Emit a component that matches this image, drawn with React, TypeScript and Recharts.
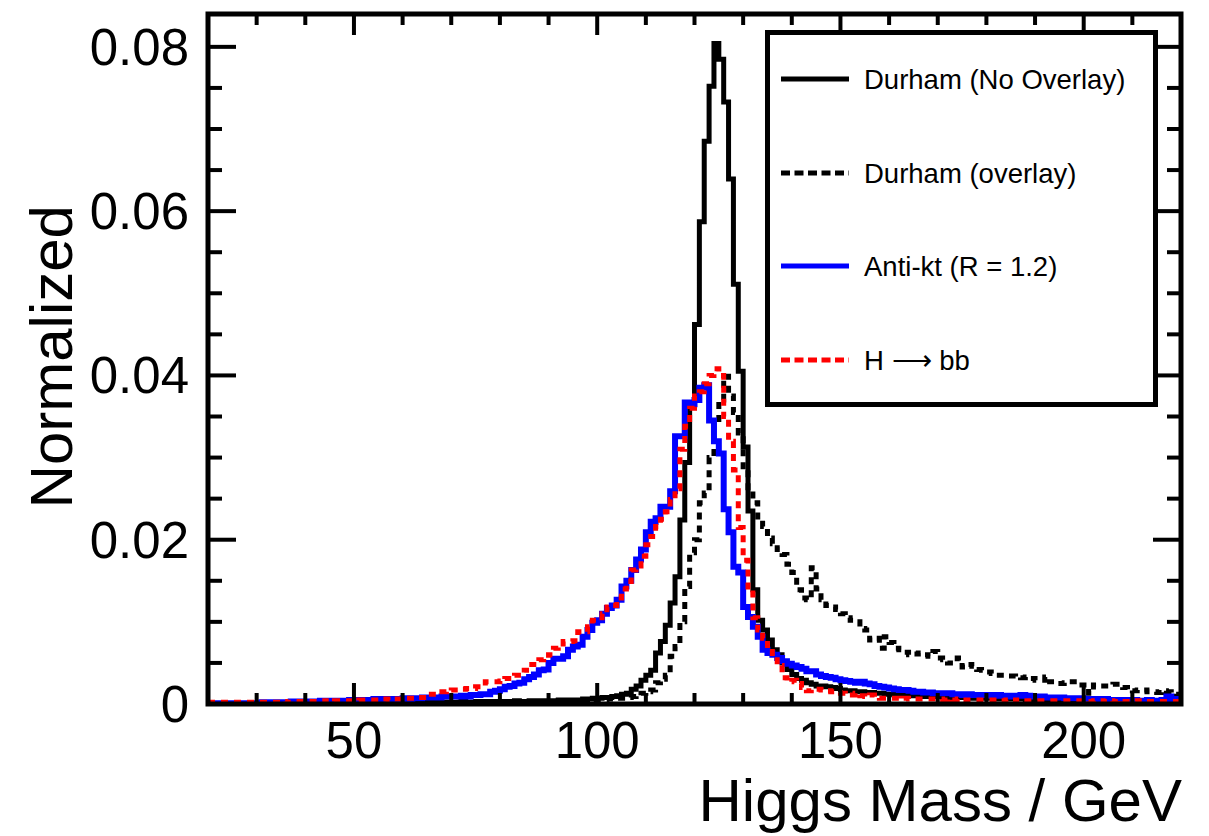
import React from 'react';
import { LineChart, Line, XAxis, YAxis } from 'recharts';

// ---------------- layout constants ----------------
const W = 1209;
const H = 836;
const PLOT_LEFT = 208;
const PLOT_TOP = 14;
const PLOT_W = 973;
const PLOT_H = 690;
const FONT = '"Liberation Sans", Arial, Helvetica, sans-serif';

// ---------------- axes ----------------
const X_MIN = 20;
const X_MAX = 220;
const Y_MAX = 0.084;
const xTicks = [20, 30, 40, 50, 60, 70, 80, 90, 100, 110, 120, 130, 140, 150, 160, 170, 180, 190, 200, 210];
const xMajorTicks = [50, 100, 150, 200];
const xTickLabels = ['50', '100', '150', '200'];
const yTicks = [0, 0.005, 0.01, 0.015, 0.02, 0.025, 0.03, 0.035, 0.04, 0.045, 0.05, 0.055, 0.06, 0.065, 0.07, 0.075, 0.08];
const yMajorTicks = [0, 0.02, 0.04, 0.06, 0.08];
const yTickLabels = ['0', '0.02', '0.04', '0.06', '0.08'];
const xTitle = 'Higgs Mass / GeV';
const yTitle = 'Normalized';

// ---------------- series (1 GeV bins, 20 .. 220) ----------------
const seriesNames = ['Durham (No Overlay)', 'Durham (overlay)', 'Anti-kt (R = 1.2)', 'H \u27F6 bb'];

const durhamNoOverlay = [
  0, 0, 0, 0, 0, 0, 0, 0, 0, 0,
  0, 0, 0, 0, 0.0001, 0, 0, 0.0001, 0, 0.0001,
  0.0001, 0.0001, 0.0001, 0.0001, 0.0001, 0.0001, 0.0001, 0.0001, 0.0001, 0.0001,
  0.0001, 0.0001, 0.0002, 0.0001, 0.0001, 0.0002, 0.0002, 0.0001, 0.0002, 0.0002,
  0.0002, 0.0002, 0.0002, 0.0002, 0.0002, 0.0002, 0.0002, 0.0002, 0.0002, 0.0002,
  0.0002, 0.0002, 0.0003, 0.0002, 0.0002, 0.0003, 0.0003, 0.0003, 0.0002, 0.0003,
  0.0003, 0.0003, 0.0003, 0.0004, 0.0003, 0.0003, 0.0004, 0.0003, 0.0004, 0.0004,
  0.0004, 0.0004, 0.0005, 0.0004, 0.0005, 0.0005, 0.0005, 0.0006, 0.0006, 0.0007,
  0.0007, 0.0008, 0.0008, 0.0009, 0.0010, 0.0012, 0.0013, 0.0018, 0.0022, 0.0029,
  0.0035, 0.0041, 0.0062, 0.0076, 0.0096, 0.0123, 0.0155, 0.0224, 0.0294, 0.0367,
  0.0462, 0.0587, 0.0685, 0.0752, 0.0804, 0.0785, 0.0733, 0.0639, 0.0511, 0.0405,
  0.0313, 0.0235, 0.0139, 0.0102, 0.0090, 0.0078, 0.0066, 0.0060, 0.0050, 0.0042,
  0.0036, 0.0031, 0.0029, 0.0026, 0.0024, 0.0022, 0.0022, 0.0021, 0.0020, 0.0019,
  0.0017, 0.0016, 0.0016, 0.0015, 0.0015, 0.0014, 0.0014, 0.0013, 0.0013, 0.0012,
  0.0012, 0.0011, 0.0011, 0.0011, 0.0010, 0.0010, 0.0010, 0.0009, 0.0009, 0.0009,
  0.0009, 0.0008, 0.0008, 0.0008, 0.0008, 0.0008, 0.0007, 0.0007, 0.0007, 0.0007,
  0.0007, 0.0007, 0.0006, 0.0006, 0.0006, 0.0006, 0.0006, 0.0006, 0.0005, 0.0006,
  0.0005, 0.0005, 0.0005, 0.0005, 0.0005, 0.0005, 0.0005, 0.0004, 0.0005, 0.0004,
  0.0004, 0.0004, 0.0004, 0.0004, 0.0004, 0.0004, 0.0004, 0.0004, 0.0004, 0.0003,
  0.0003, 0.0004, 0.0003, 0.0003, 0.0003, 0.0003, 0.0003, 0.0003, 0.0003, 0.0003,
];

const durhamOverlay = [
  0, 0, 0, 0, 0, 0, 0, 0, 0, 0,
  0, 0, 0, 0, 0, 0, 0, 0.0001, 0, 0,
  0, 0.0001, 0, 0, 0.0001, 0, 0.0001, 0, 0.0001, 0.0001,
  0.0001, 0.0001, 0.0001, 0.0001, 0.0001, 0.0001, 0.0001, 0.0001, 0.0001, 0.0001,
  0.0001, 0.0001, 0.0001, 0.0002, 0.0001, 0.0001, 0.0002, 0.0001, 0.0002, 0.0002,
  0.0002, 0.0002, 0.0002, 0.0002, 0.0002, 0.0002, 0.0002, 0.0002, 0.0002, 0.0002,
  0.0002, 0.0002, 0.0003, 0.0002, 0.0003, 0.0003, 0.0003, 0.0003, 0.0003, 0.0003,
  0.0003, 0.0003, 0.0004, 0.0003, 0.0004, 0.0004, 0.0004, 0.0004, 0.0005, 0.0005,
  0.0005, 0.0005, 0.0006, 0.0006, 0.0007, 0.0007, 0.0008, 0.0009, 0.0010, 0.0013,
  0.0015, 0.0017, 0.0026, 0.0030, 0.0035, 0.0058, 0.0070, 0.0100, 0.0143, 0.0184,
  0.0200, 0.0245, 0.0257, 0.0300, 0.0343, 0.0370, 0.0399, 0.0375, 0.0355, 0.0330,
  0.0285, 0.0260, 0.0245, 0.0224, 0.0216, 0.0202, 0.0195, 0.0188, 0.0182, 0.0170,
  0.0160, 0.0139, 0.0129, 0.0127, 0.0166, 0.0140, 0.0127, 0.0120, 0.0118, 0.0115,
  0.0110, 0.0105, 0.0102, 0.0100, 0.0092, 0.0090, 0.0078, 0.0080, 0.0068, 0.0082,
  0.0075, 0.0068, 0.0066, 0.0063, 0.0060, 0.0061, 0.0062, 0.0060, 0.0058, 0.0064,
  0.0056, 0.0054, 0.0050, 0.0050, 0.0056, 0.0045, 0.0048, 0.0046, 0.0042, 0.0041,
  0.0039, 0.0037, 0.0035, 0.0035, 0.0034, 0.0034, 0.0033, 0.0032, 0.0033, 0.0031,
  0.0029, 0.0029, 0.0033, 0.0027, 0.0025, 0.0025, 0.0026, 0.0027, 0.0027, 0.0023,
  0.0023, 0.0013, 0.0023, 0.0022, 0.0022, 0.0022, 0.0024, 0.0024, 0.0020, 0.0017,
  0.0016, 0.0017, 0.0017, 0.0015, 0.0015, 0.0014, 0.0016, 0.0015, 0.0014, 0.0012,
];

const antiKt = [
  0.0001, 0.0001, 0.0001, 0.0001, 0.0001, 0.0001, 0.0001, 0.0001, 0.0001, 0.0001,
  0.0001, 0.0002, 0.0001, 0.0002, 0.0002, 0.0002, 0.0002, 0.0003, 0.0003, 0.0003,
  0.0003, 0.0003, 0.0003, 0.0004, 0.0003, 0.0004, 0.0004, 0.0004, 0.0004, 0.0005,
  0.0005, 0.0005, 0.0005, 0.0005, 0.0006, 0.0005, 0.0006, 0.0006, 0.0006, 0.0006,
  0.0007, 0.0006, 0.0007, 0.0007, 0.0008, 0.0008, 0.0008, 0.0008, 0.0009, 0.0009,
  0.0009, 0.0009, 0.0010, 0.0009, 0.0011, 0.0011, 0.0012, 0.0012, 0.0015, 0.0016,
  0.0018, 0.0021, 0.0022, 0.0025, 0.0026, 0.0030, 0.0033, 0.0036, 0.0041, 0.0042,
  0.0050, 0.0055, 0.0055, 0.0058, 0.0066, 0.0070, 0.0072, 0.0082, 0.0090, 0.0099,
  0.0102, 0.0110, 0.0117, 0.0120, 0.0127, 0.0143, 0.0150, 0.0163, 0.0176, 0.0188,
  0.0209, 0.0222, 0.0226, 0.0240, 0.0240, 0.0259, 0.0326, 0.0326, 0.0367, 0.0365,
  0.0370, 0.0385, 0.0388, 0.0345, 0.0320, 0.0305, 0.0237, 0.0209, 0.0167, 0.0160,
  0.0118, 0.0106, 0.0094, 0.0082, 0.0066, 0.0062, 0.0060, 0.0056, 0.0052, 0.0049,
  0.0047, 0.0045, 0.0043, 0.0040, 0.0040, 0.0036, 0.0034, 0.0033, 0.0032, 0.0030,
  0.0029, 0.0028, 0.0027, 0.0026, 0.0027, 0.0025, 0.0024, 0.0022, 0.0021, 0.0020,
  0.0019, 0.0018, 0.0017, 0.0017, 0.0016, 0.0015, 0.0015, 0.0014, 0.0014, 0.0013,
  0.0013, 0.0013, 0.0013, 0.0012, 0.0012, 0.0011, 0.0012, 0.0011, 0.0011, 0.0011,
  0.0011, 0.0010, 0.0011, 0.0010, 0.0010, 0.0009, 0.0010, 0.0011, 0.0010, 0.0009,
  0.0009, 0.0009, 0.0008, 0.0008, 0.0008, 0.0008, 0.0007, 0.0007, 0.0007, 0.0007,
  0.0006, 0.0006, 0.0006, 0.0006, 0.0006, 0.0005, 0.0005, 0.0005, 0.0005, 0.0005,
  0.0005, 0.0004, 0.0004, 0.0005, 0.0004, 0.0004, 0.0005, 0.0009, 0.0006, 0.0005,
];

const hToBB = [
  0.0002, 0.0002, 0.0002, 0.0002, 0.0002, 0.0002, 0.0002, 0.0002, 0.0002, 0.0002,
  0.0002, 0.0002, 0.0002, 0.0002, 0.0002, 0.0003, 0.0002, 0.0003, 0.0003, 0.0003,
  0.0003, 0.0003, 0.0003, 0.0003, 0.0004, 0.0003, 0.0004, 0.0004, 0.0004, 0.0004,
  0.0004, 0.0005, 0.0005, 0.0005, 0.0005, 0.0005, 0.0006, 0.0005, 0.0006, 0.0006,
  0.0007, 0.0007, 0.0007, 0.0008, 0.0008, 0.0012, 0.0012, 0.0015, 0.0015, 0.0016,
  0.0017, 0.0017, 0.0018, 0.0019, 0.0019, 0.0021, 0.0021, 0.0027, 0.0027, 0.0027,
  0.0028, 0.0031, 0.0031, 0.0035, 0.0035, 0.0041, 0.0048, 0.0048, 0.0054, 0.0055,
  0.0060, 0.0068, 0.0070, 0.0076, 0.0076, 0.0077, 0.0088, 0.0088, 0.0094, 0.0102,
  0.0105, 0.0110, 0.0118, 0.0120, 0.0129, 0.0140, 0.0149, 0.0163, 0.0168, 0.0180,
  0.0194, 0.0204, 0.0216, 0.0225, 0.0234, 0.0249, 0.0262, 0.0310, 0.0338, 0.0360,
  0.0375, 0.0380, 0.0390, 0.0400, 0.0408, 0.0400, 0.0350, 0.0320, 0.0285, 0.0215,
  0.0175, 0.0135, 0.0105, 0.0090, 0.0080, 0.0068, 0.0057, 0.0047, 0.0032, 0.0027,
  0.0029, 0.0025, 0.0020, 0.0016, 0.0018, 0.0018, 0.0017, 0.0016, 0.0015, 0.0014,
  0.0013, 0.0011, 0.0011, 0.0013, 0.0010, 0.0009, 0.0011, 0.0008, 0.0007, 0.0007,
  0.0007, 0.0007, 0.0006, 0.0007, 0.0006, 0.0006, 0.0006, 0.0006, 0.0006, 0.0006,
  0.0006, 0.0005, 0.0006, 0.0005, 0.0006, 0.0005, 0.0005, 0.0005, 0.0005, 0.0005,
  0.0005, 0.0005, 0.0005, 0.0004, 0.0005, 0.0004, 0.0005, 0.0004, 0.0004, 0.0004,
  0.0004, 0.0004, 0.0004, 0.0004, 0.0004, 0.0004, 0.0004, 0.0004, 0.0004, 0.0004,
  0.0004, 0.0003, 0.0004, 0.0004, 0.0003, 0.0004, 0.0003, 0.0004, 0.0003, 0.0003,
  0.0003, 0.0004, 0.0003, 0.0003, 0.0003, 0.0003, 0.0003, 0.0003, 0.0003, 0.0003,
];

// step-histogram table: one point per bin low edge, plus the final upper edge
const binEdges = Array.from({ length: durhamNoOverlay.length + 1 }, (_, i) => X_MIN + i);
const at = (arr: number[], i: number) => arr[Math.min(i, arr.length - 1)];
const data = binEdges.map((x, i) => ({
  x,
  noOverlay: at(durhamNoOverlay, i),
  overlay: at(durhamOverlay, i),
  antikt: at(antiKt, i),
  hbb: at(hToBB, i),
}));

const DASH = '7 6';
const LEGEND_DASH = '9 4.5';

const XTick = (props: any) => {
  const { x, y, payload } = props;
  const v = payload.value;
  if (v === X_MIN) {
    return (
      <rect x={x} y={y - PLOT_H} width={PLOT_W} height={PLOT_H} fill="none" stroke="#000" strokeWidth={5} />
    );
  }
  const mi = xMajorTicks.indexOf(v);
  const len = mi >= 0 ? 21 : 11;
  return (
    <g>
      <line x1={x} x2={x} y1={y} y2={y - len} stroke="#000" strokeWidth={4} />
      <line x1={x} x2={x} y1={y - PLOT_H} y2={y - PLOT_H + len} stroke="#000" strokeWidth={4} />
      {mi >= 0 && (
        <text x={x} y={y + 54} textAnchor="middle" fontSize={51} fontFamily={FONT} fill="#000">
          {xTickLabels[mi]}
        </text>
      )}
    </g>
  );
};

const YTick = (props: any) => {
  const { x, y, payload } = props;
  const v = payload.value;
  const mi = yMajorTicks.findIndex((m) => Math.abs(m - v) < 1e-9);
  const len = mi >= 0 ? 28 : 14;
  return (
    <g>
      {v > 0 && <line x1={x} x2={x + len} y1={y} y2={y} stroke="#000" strokeWidth={4} />}
      {v > 0 && (
        <line x1={x + PLOT_W} x2={x + PLOT_W - len} y1={y} y2={y} stroke="#000" strokeWidth={4} />
      )}
      {mi >= 0 && (
        <text x={x - 19} y={y + 18} textAnchor="end" fontSize={51} fontFamily={FONT} fill="#000">
          {yTickLabels[mi]}
        </text>
      )}
    </g>
  );
};

const legendRows = [
  { name: seriesNames[0], color: '#000', dash: undefined as string | undefined, y: 79 },
  { name: seriesNames[1], color: '#000', dash: LEGEND_DASH, y: 173 },
  { name: seriesNames[2], color: '#0000ff', dash: undefined as string | undefined, y: 266 },
  { name: seriesNames[3], color: '#ff0000', dash: LEGEND_DASH, y: 360 },
];

export default function App() {
  return (
    <div style={{ position: 'absolute', left: 0, top: 0, width: W, height: H, background: '#fff' }}>
      <LineChart
        width={W}
        height={H}
        data={data}
        margin={{ top: PLOT_TOP, right: W - PLOT_LEFT - PLOT_W, bottom: H - PLOT_TOP - PLOT_H - 1, left: PLOT_LEFT - 1 }}
      >
        <XAxis
          dataKey="x"
          type="number"
          domain={[X_MIN, X_MAX]}
          allowDataOverflow
          ticks={xTicks}
          interval={0}
          tickSize={0}
          tickMargin={0}
          axisLine={false}
          tickLine={false}
          height={1}
          tick={XTick}
        />
        <YAxis
          type="number"
          domain={[0, Y_MAX]}
          allowDataOverflow
          ticks={yTicks}
          interval={0}
          tickSize={0}
          tickMargin={0}
          axisLine={false}
          tickLine={false}
          width={1}
          tick={YTick}
        />
        <Line type="stepAfter" dataKey="noOverlay" stroke="#000" strokeWidth={5} dot={false} isAnimationActive={false} />
        <Line type="stepAfter" dataKey="overlay" stroke="#000" strokeWidth={5} strokeDasharray={DASH} dot={false} isAnimationActive={false} />
        <Line type="stepAfter" dataKey="antikt" stroke="#0000ff" strokeWidth={6} dot={false} isAnimationActive={false} />
        <Line type="stepAfter" dataKey="hbb" stroke="#ff0000" strokeWidth={5} strokeDasharray={DASH} dot={false} isAnimationActive={false} />
      </LineChart>
      <svg
        width={W}
        height={H}
        style={{ position: 'absolute', left: 0, top: 0, pointerEvents: 'none' }}
      >
        <text x={1182} y={821} textAnchor="end" fontSize={60} fontFamily={FONT} fill="#000">
          {xTitle}
        </text>
        <text
          x={72}
          y={205}
          transform="rotate(-90 72 205)"
          textAnchor="end"
          fontSize={60}
          fontFamily={FONT}
          fill="#000"
        >
          {yTitle}
        </text>
        <rect x={767.5} y={32.5} width={388} height={372} fill="#fff" stroke="#000" strokeWidth={5} />
        {legendRows.map((r) => (
          <g key={r.name}>
            <line x1={781} x2={849} y1={r.y} y2={r.y} stroke={r.color} strokeWidth={5} strokeDasharray={r.dash} />
            <text x={864} y={r.y + 10} fontSize={27.5} fontFamily={FONT} fill="#000">
              {r.name}
            </text>
          </g>
        ))}
      </svg>
    </div>
  );
}
